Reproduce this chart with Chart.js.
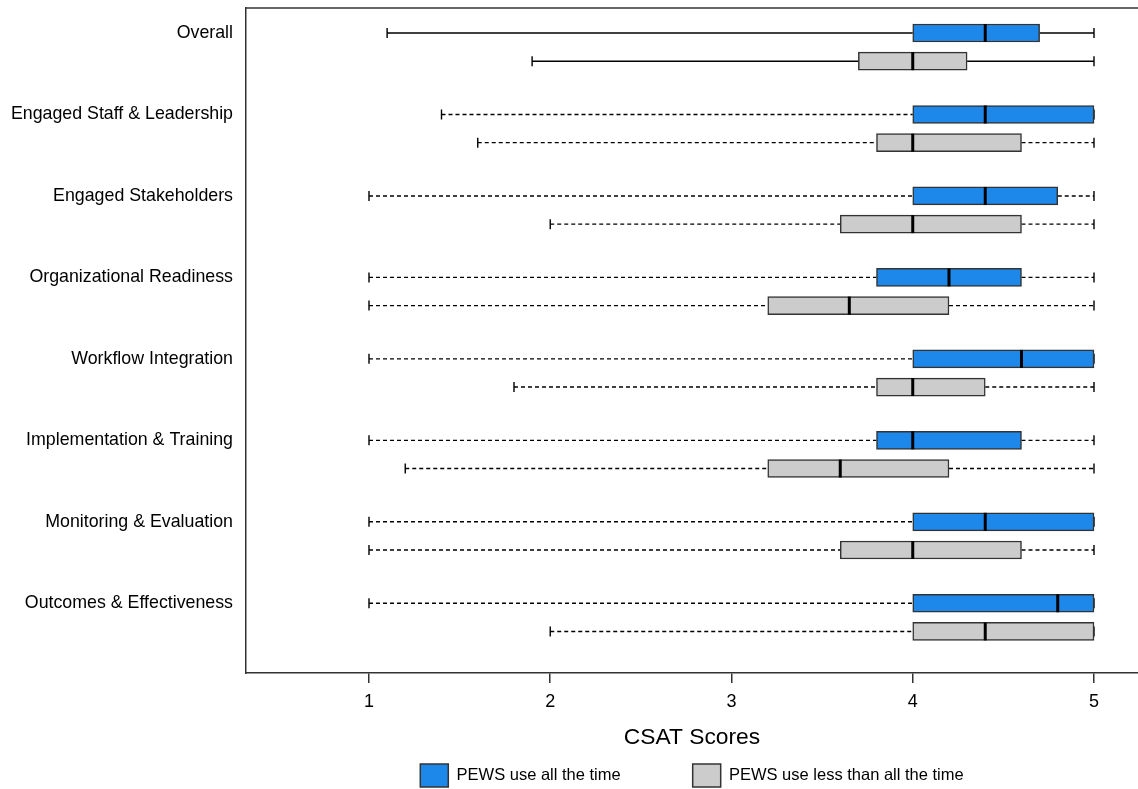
<!DOCTYPE html>
<html><head><meta charset="utf-8">
<script src="https://cdn.jsdelivr.net/npm/chart.js@4"></script>
<style>html,body{margin:0;padding:0;background:#fff;overflow:hidden}</style>
</head><body>
<canvas id="c" width="1138" height="789" style="display:block;width:1138px;height:789px"></canvas>
<script>
// ---- data ----
const categories = ['Overall','Engaged Staff & Leadership','Engaged Stakeholders','Organizational Readiness','Workflow Integration','Implementation & Training','Monitoring & Evaluation','Outcomes & Effectiveness'];
const seriesNames = ['PEWS use all the time','PEWS use less than all the time'];
const allMin = [1.1, 1.4, 1.0, 1.0, 1.0, 1.0, 1.0, 1.0];
const allQ1  = [4.0, 4.0, 4.0, 3.8, 4.0, 3.8, 4.0, 4.0];
const allMed = [4.4, 4.4, 4.4, 4.2, 4.6, 4.0, 4.4, 4.8];
const allQ3  = [4.7, 5.0, 4.8, 4.6, 5.0, 4.6, 5.0, 5.0];
const allMax = [5.0, 5.0, 5.0, 5.0, 5.0, 5.0, 5.0, 5.0];
const lessMin = [1.9, 1.6, 2.0, 1.0, 1.8, 1.2, 1.0, 2.0];
const lessQ1  = [3.7, 3.8, 3.6, 3.2, 3.8, 3.2, 3.6, 4.0];
const lessMed = [4.0, 4.0, 4.0, 3.65, 4.0, 3.6, 4.0, 4.4];
const lessQ3  = [4.3, 4.6, 4.6, 4.2, 4.4, 4.2, 4.6, 5.0];
const lessMax = [5.0, 5.0, 5.0, 5.0, 5.0, 5.0, 5.0, 5.0];
const xTicks = [1, 2, 3, 4, 5];
const xTitle = 'CSAT Scores';

// ---- styling / layout ----
const ROW_OFFSET = 0.346;
const FONT = "'Liberation Sans', Arial, Helvetica, sans-serif";
const EDGE = '#333';
Chart.defaults.font.family = FONT;
Chart.defaults.color = '#000';

const series = [
  {min: allMin, q1: allQ1, med: allMed, q3: allQ3, max: allMax, color: '#1E88EA'},
  {min: lessMin, q1: lessQ1, med: lessMed, q3: lessQ3, max: lessMax, color: '#CCCCCC'}
];

const datasets = series.map((s, d) => ({
  label: seriesNames[d],
  data: categories.map((c, i) => ({y: i + d * ROW_OFFSET, x: [s.q1[i], s.q3[i]]})),
  backgroundColor: s.color,
  borderColor: EDGE,
  borderWidth: 1.5,
  borderSkipped: false,
  barThickness: 18,
  grouped: false
}));

const boxParts = {
  id: 'boxParts',
  beforeDatasetsDraw(chart) {
    const {ctx, scales: {x, y}} = chart;
    ctx.save();
    ctx.strokeStyle = '#000';
    ctx.lineWidth = 1.4;
    series.forEach((s, d) => {
      categories.forEach((c, i) => {
        const py = y.getPixelForValue(i + d * ROW_OFFSET);
        const xmin = x.getPixelForValue(s.min[i]);
        const xq1 = x.getPixelForValue(s.q1[i]);
        const xq3 = x.getPixelForValue(s.q3[i]);
        const xmax = x.getPixelForValue(s.max[i]);
        ctx.setLineDash(i === 0 ? [] : [4, 3]);
        ctx.beginPath();
        ctx.moveTo(xmin, py); ctx.lineTo(xq1, py);
        ctx.moveTo(xq3, py); ctx.lineTo(xmax, py);
        ctx.stroke();
        ctx.setLineDash([]);
        ctx.beginPath();
        ctx.moveTo(xmin, py - 5); ctx.lineTo(xmin, py + 5);
        ctx.moveTo(xmax, py - 5); ctx.lineTo(xmax, py + 5);
        ctx.stroke();
      });
    });
    ctx.restore();
  },
  afterDatasetsDraw(chart) {
    const {ctx, scales: {x, y}} = chart;
    ctx.save();
    ctx.strokeStyle = '#000';
    ctx.lineWidth = 3;
    series.forEach((s, d) => {
      categories.forEach((c, i) => {
        const py = y.getPixelForValue(i + d * ROW_OFFSET);
        const xm = x.getPixelForValue(s.med[i]);
        ctx.beginPath();
        ctx.moveTo(xm, py - 9); ctx.lineTo(xm, py + 9);
        ctx.stroke();
      });
    });
    ctx.restore();
  },
  afterDraw(chart) {
    const {ctx, chartArea: a} = chart;
    ctx.save();
    ctx.strokeStyle = EDGE;
    ctx.lineWidth = 1.5;
    ctx.beginPath();
    ctx.moveTo(a.left, a.top); ctx.lineTo(a.right, a.top);
    ctx.stroke();
    ctx.restore();
  }
};

new Chart(document.getElementById('c'), {
  type: 'bar',
  data: {datasets},
  plugins: [boxParts],
  options: {
    indexAxis: 'y',
    responsive: false,
    animation: false,
    devicePixelRatio: 1,
    layout: {padding: {top: 8, left: 0, right: 0, bottom: 0}},
    plugins: {
      tooltip: {enabled: false},
      legend: {
        position: 'bottom',
        fullSize: false,
        maxHeight: 97,
        labels: {boxWidth: 28, boxHeight: 23, padding: 72, color: '#000', font: {size: 16.5}}
      }
    },
    scales: {
      x: {
        type: 'linear', min: 0.3214, max: 5.2428, offset: false,
        afterBuildTicks: s => { s.ticks = xTicks.map(v => ({value: v})); },
        grid: {display: true, drawOnChartArea: false, drawTicks: true, tickLength: 10, color: EDGE, lineWidth: 1.5},
        border: {display: true, color: EDGE, width: 1.5},
        ticks: {color: '#000', font: {size: 18}, padding: 8, maxRotation: 0, autoSkip: false},
        title: {display: true, text: xTitle, color: '#000', font: {size: 22.8}, padding: {top: 0, bottom: -59.7}},
        afterFit: s => { s.height = 19; s.paddingLeft = 0; s.paddingRight = 0; s._computeLabelArea = () => undefined; }
      },
      y: {
        type: 'linear', reverse: true, min: -0.307, max: 7.856, offset: false,
        afterBuildTicks: s => { s.ticks = categories.map((c, i) => ({value: i})); },
        grid: {display: false, drawTicks: false, offset: false},
        border: {display: true, color: EDGE, width: 1.5},
        ticks: {callback: v => categories[v], color: '#000', font: {size: 17.8}, padding: 13, autoSkip: false},
        afterFit: s => { s.width = 246; s.paddingTop = 0; s.paddingBottom = 0; }
      }
    }
  }
});
</script>
</body></html>
